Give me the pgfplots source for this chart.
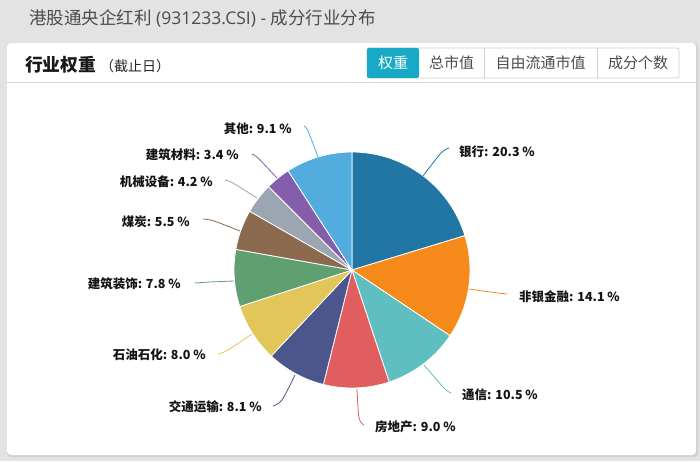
\documentclass[border=0pt]{standalone}
\usepackage{pgfplots}
\pgfplotsset{compat=1.18}
\usepackage{fontspec}
\setmainfont{Noto Sans CJK SC}
\newfontfamily\lat{Open Sans}
\definecolor{cA}{HTML}{2276A4}
\definecolor{cB}{HTML}{F68A1A}
\definecolor{cC}{HTML}{5FBEC0}
\definecolor{cD}{HTML}{E05E60}
\definecolor{cE}{HTML}{4A568C}
\definecolor{cF}{HTML}{E2C65A}
\definecolor{cG}{HTML}{60A070}
\definecolor{cH}{HTML}{8C6A50}
\definecolor{cI}{HTML}{9BA6B2}
\definecolor{cJ}{HTML}{845EAA}
\definecolor{cK}{HTML}{52ACDE}
\definecolor{pagebg}{HTML}{E3E3E3}
\definecolor{teal}{HTML}{17A9C6}
\newcommand\lbl{\fontsize{12.5bp}{14bp}\selectfont\bfseries\color{black!92}}
\begin{document}
\begin{tikzpicture}
\begin{axis}[scale only axis, width=700bp, height=461bp,
  xmin=0, xmax=700, ymin=0, ymax=461, y dir=reverse, hide axis, clip=true]
% page and card
\fill[pagebg] (axis cs:0,0) rectangle (axis cs:700,461);
\fill[black!18, rounded corners=4bp] (axis cs:7,43) rectangle (axis cs:698,457);
\fill[white, rounded corners=4bp] (axis cs:7,43) rectangle (axis cs:696,455);
\draw[black!15, line width=0.8bp] (axis cs:7,82.5) -- (axis cs:696,82.5);
\node[anchor=west, text=black!70, font=\fontsize{17.5bp}{20bp}\selectfont, inner sep=0pt] at (axis cs:29,18.5) {港股通央企红利{\lat\ (931233.CSI) - }成分行业分布};
\node[anchor=west, text=black!90, font=\fontsize{17.8bp}{20bp}\selectfont\bfseries, inner sep=0pt] at (axis cs:25,65) {行业权重};
\node[anchor=west, text=black!85, font=\fontsize{14bp}{16bp}\selectfont, inner sep=0pt] at (axis cs:100,66) {（截止日）};
% buttons
\draw[black!18, fill=white, line width=0.8bp, rounded corners=2bp] (axis cs:367,48) rectangle (axis cs:679,78);
\fill[teal, rounded corners=2bp] (axis cs:367,48) rectangle (axis cs:419,78);
\draw[black!18, line width=0.8bp] (axis cs:484,48) -- (axis cs:484,78);
\draw[black!18, line width=0.8bp] (axis cs:597,48) -- (axis cs:597,78);
\node[text=white, font=\fontsize{15bp}{17bp}\selectfont] at (axis cs:393,63) {权重};
\node[text=black!70, font=\fontsize{15bp}{17bp}\selectfont] at (axis cs:451.5,63) {总市值};
\node[text=black!70, font=\fontsize{15bp}{17bp}\selectfont] at (axis cs:540.5,63) {自由流通市值};
\node[text=black!70, font=\fontsize{15bp}{17bp}\selectfont] at (axis cs:638,63) {成分个数};
% pie wedges: shares (%) 20.3 14.1 10.5 9.0 8.1 8.0 7.8 5.5 4.2 3.4 9.1, clockwise from top
\addplot[fill=cA, draw=white, line width=0.8bp, domain=0:20.3, samples=60, variable=\t] ({352+118*sin(3.6*\t)},{270-118*cos(3.6*\t)}) -- (axis cs:352,270) -- cycle;
\addplot[fill=cB, draw=white, line width=0.8bp, domain=20.3:34.4, samples=45, variable=\t] ({352+118*sin(3.6*\t)},{270-118*cos(3.6*\t)}) -- (axis cs:352,270) -- cycle;
\addplot[fill=cC, draw=white, line width=0.8bp, domain=34.4:44.9, samples=35, variable=\t] ({352+118*sin(3.6*\t)},{270-118*cos(3.6*\t)}) -- (axis cs:352,270) -- cycle;
\addplot[fill=cD, draw=white, line width=0.8bp, domain=44.9:53.9, samples=30, variable=\t] ({352+118*sin(3.6*\t)},{270-118*cos(3.6*\t)}) -- (axis cs:352,270) -- cycle;
\addplot[fill=cE, draw=white, line width=0.8bp, domain=53.9:62.0, samples=30, variable=\t] ({352+118*sin(3.6*\t)},{270-118*cos(3.6*\t)}) -- (axis cs:352,270) -- cycle;
\addplot[fill=cF, draw=white, line width=0.8bp, domain=62.0:70.0, samples=30, variable=\t] ({352+118*sin(3.6*\t)},{270-118*cos(3.6*\t)}) -- (axis cs:352,270) -- cycle;
\addplot[fill=cG, draw=white, line width=0.8bp, domain=70.0:77.8, samples=30, variable=\t] ({352+118*sin(3.6*\t)},{270-118*cos(3.6*\t)}) -- (axis cs:352,270) -- cycle;
\addplot[fill=cH, draw=white, line width=0.8bp, domain=77.8:83.3, samples=20, variable=\t] ({352+118*sin(3.6*\t)},{270-118*cos(3.6*\t)}) -- (axis cs:352,270) -- cycle;
\addplot[fill=cI, draw=white, line width=0.8bp, domain=83.3:87.5, samples=20, variable=\t] ({352+118*sin(3.6*\t)},{270-118*cos(3.6*\t)}) -- (axis cs:352,270) -- cycle;
\addplot[fill=cJ, draw=white, line width=0.8bp, domain=87.5:90.9, samples=15, variable=\t] ({352+118*sin(3.6*\t)},{270-118*cos(3.6*\t)}) -- (axis cs:352,270) -- cycle;
\addplot[fill=cK, draw=white, line width=0.8bp, domain=90.9:100, samples=30, variable=\t] ({352+118*sin(3.6*\t)},{270-118*cos(3.6*\t)}) -- (axis cs:352,270) -- cycle;
% leader lines
\addplot[cA, smooth, line width=0.8bp] coordinates {(423,176) (441,153) (449,148)};
\addplot[cB, smooth, line width=0.8bp] coordinates {(469,289) (490,292) (507,294)};
\addplot[cC, smooth, line width=0.8bp] coordinates {(424,365) (444,388) (451,393)};
\addplot[cD, smooth, line width=0.8bp] coordinates {(357,389) (359,418) (364,425)};
\addplot[cE, smooth, line width=0.8bp] coordinates {(295,375) (282,400) (273,406)};
\addplot[cF, smooth, line width=0.8bp] coordinates {(252,334) (228,350) (218,354)};
\addplot[cG, smooth, line width=0.8bp] coordinates {(234,281) (210,282) (195,283)};
\addplot[cH, smooth, line width=0.8bp] coordinates {(240,231) (214,221) (203,219)};
\addplot[cI, smooth, line width=0.8bp] coordinates {(257,198) (233,183) (225,180)};
\addplot[cJ, smooth, line width=0.8bp] coordinates {(277,178) (258,158) (252,154)};
\addplot[cK, smooth, line width=0.8bp] coordinates {(318,157) (308,131) (304,126)};
% labels
\node[anchor=west, font=\lbl, inner sep=0pt] at (axis cs:459,152) {银行: 20.3 \%};
\node[anchor=west, font=\lbl, inner sep=0pt] at (axis cs:519,297) {非银金融: 14.1 \%};
\node[anchor=west, font=\lbl, inner sep=0pt] at (axis cs:462,395) {通信: 10.5 \%};
\node[anchor=west, font=\lbl, inner sep=0pt] at (axis cs:375,427) {房地产: 9.0 \%};
\node[anchor=east, font=\lbl, inner sep=0pt] at (axis cs:262,407) {交通运输: 8.1 \%};
\node[anchor=east, font=\lbl, inner sep=0pt] at (axis cs:206,355) {石油石化: 8.0 \%};
\node[anchor=east, font=\lbl, inner sep=0pt] at (axis cs:181,284) {建筑装饰: 7.8 \%};
\node[anchor=east, font=\lbl, inner sep=0pt] at (axis cs:190,222) {煤炭: 5.5 \%};
\node[anchor=east, font=\lbl, inner sep=0pt] at (axis cs:213,182) {机械设备: 4.2 \%};
\node[anchor=east, font=\lbl, inner sep=0pt] at (axis cs:239,155) {建筑材料: 3.4 \%};
\node[anchor=east, font=\lbl, inner sep=0pt] at (axis cs:292,129) {其他: 9.1 \%};
\end{axis}
\end{tikzpicture}
\end{document}
